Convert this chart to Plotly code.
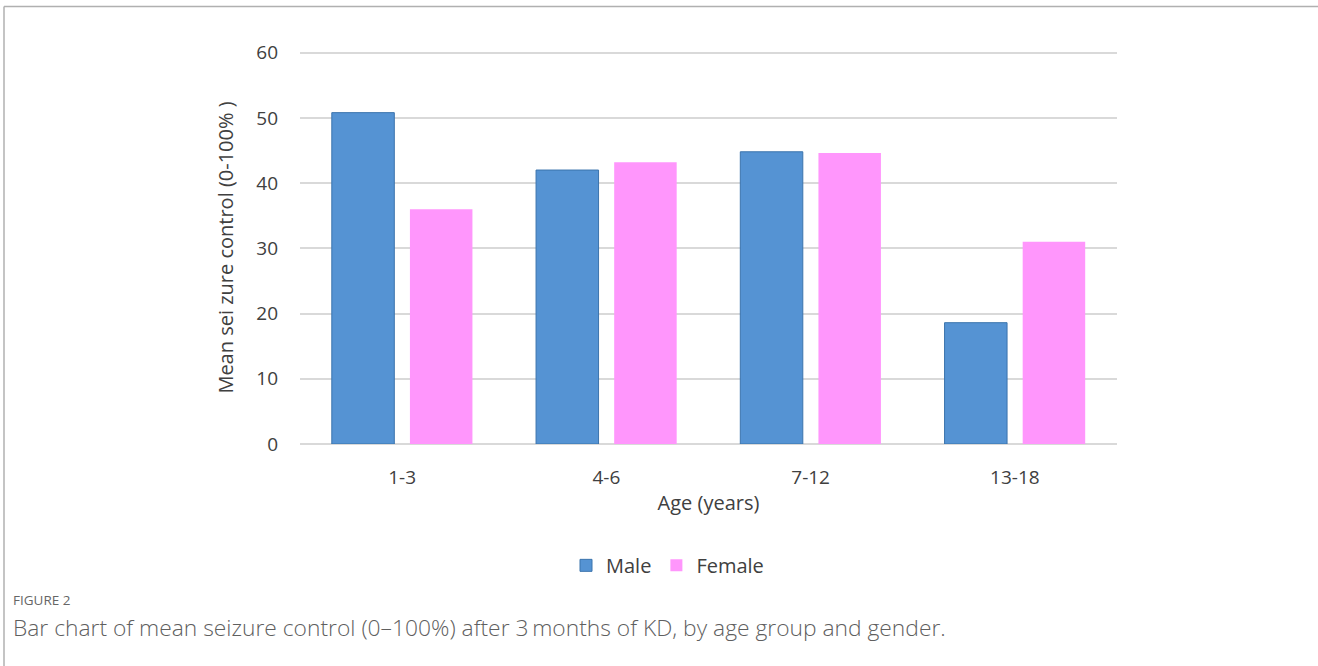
import plotly.graph_objects as go

# Age groups and mean seizure control (%) after 3 months on the ketogenic diet
age_groups = ["1-3", "4-6", "7-12", "13-18"]
male_values = [50.8, 42.0, 44.8, 18.6]
female_values = [36.0, 43.2, 44.6, 31.0]
y_ticks = [0, 10, 20, 30, 40, 50, 60]

FONT = "Open Sans, Noto Sans, sans-serif"
TEXT = "#404040"

fig = go.Figure()
fig.add_trace(go.Bar(
    name="Male", x=age_groups, y=male_values,
    marker=dict(color="#5593d3", line=dict(color="#3b74ad", width=1)),
))
fig.add_trace(go.Bar(
    name="Female", x=age_groups, y=female_values,
    marker=dict(color="#ff96fc", line=dict(color="#ff96fc", width=0)),
))

# plot area geometry in pixels (for placing the frame and caption)
W, H = 1318, 666
L, R, T, B = 300, 201, 51.0, 221.5
pw, ph = W - L - R, H - T - B

def px_x(x):
    return (x - L) / pw

def px_y(y):
    return (H - B - y) / ph

fig.update_layout(
    width=W, height=H,
    margin=dict(l=L, r=R, t=T, b=B, autoexpand=False),
    paper_bgcolor="white", plot_bgcolor="white",
    barmode="group", bargap=0.235, bargroupgap=0.2,
    font=dict(family=FONT, size=18, color=TEXT),
    showlegend=True,
    legend=dict(
        orientation="h", x=px_x(566), xanchor="left",
        y=px_y(566), yanchor="middle",
        font=dict(size=20, color=TEXT), itemwidth=30,
        bgcolor="rgba(0,0,0,0)",
    ),
    xaxis=dict(
        showgrid=False, showline=False, ticks="",
        ticklabelstandoff=20,
        tickfont=dict(size=19, color=TEXT),
        title=dict(text="Age (years)", standoff=6, font=dict(size=20, color=TEXT)),
    ),
    yaxis=dict(
        range=[0, 60.25], tickvals=y_ticks, showline=False, ticks="",
        showgrid=True, gridcolor="#d9d9d9", gridwidth=1.5,
        zeroline=True, zerolinecolor="#d9d9d9", zerolinewidth=1.5,
        ticklabelstandoff=21,
        tickfont=dict(size=19, color=TEXT),
        title=dict(text="Mean sei zure control (0-100% )", standoff=17,
                   font=dict(size=20, color=TEXT)),
    ),
)

# figure frame: thin rules along the top and left edges
frame = dict(color="#b0b0b0", width=1.5)
fig.add_shape(type="line", xref="paper", yref="paper",
              x0=px_x(4), x1=px_x(W + 5), y0=px_y(6.5), y1=px_y(6.5), line=frame)
fig.add_shape(type="line", xref="paper", yref="paper",
              x0=px_x(4), x1=px_x(4), y0=px_y(6.5), y1=px_y(H + 5), line=frame)

# caption
fig.add_annotation(
    xref="paper", yref="paper", x=px_x(11), y=px_y(601),
    xanchor="left", yanchor="middle", showarrow=False,
    text="FIGURE 2", font=dict(family=FONT, size=13.5, color="#666666"),
)
fig.add_annotation(
    xref="paper", yref="paper", x=px_x(11), y=px_y(628),
    xanchor="left", yanchor="middle", showarrow=False,
    text="Bar chart of mean seizure control (0\u2013100%) after 3\u2009months of KD, by age group and gender.",
    font=dict(family=FONT, size=22.8, color="#5f5f5f", weight=300),
)

fig.write_html("out.html")
